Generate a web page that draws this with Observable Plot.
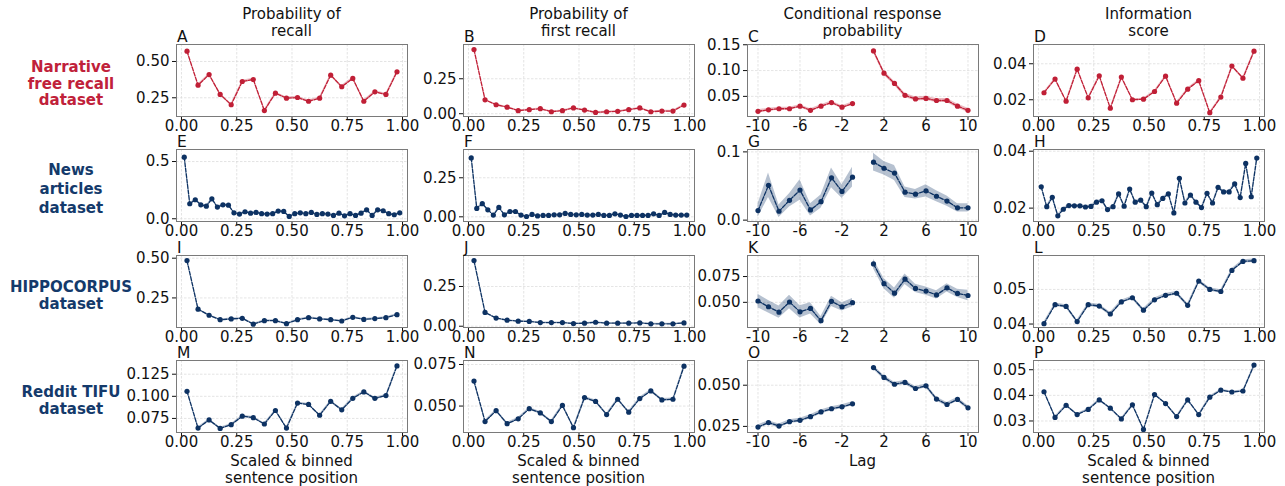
<!DOCTYPE html>
<html><head><meta charset="utf-8">
<script src="https://cdn.jsdelivr.net/npm/d3@7"></script>
<script src="https://cdn.jsdelivr.net/npm/@observablehq/plot@0.6"></script>
<style>
body{margin:0;background:#fff;}
#root{position:relative;width:1285px;height:486px;overflow:hidden;font-family:"DejaVu Sans",sans-serif;background:#fff;}
.t{position:absolute;text-align:center;font-size:15px;line-height:17px;color:#111;white-space:nowrap;transform:translateX(-50%);}
.rl{position:absolute;text-align:center;font-size:15px;line-height:16.5px;font-weight:bold;white-space:nowrap;transform:translateX(-50%);}
.lt{position:absolute;font-size:15.5px;line-height:11px;height:11px;color:#111;}
svg{position:absolute;}
</style></head><body><div id="root"></div>
<script>
// ---------- categories / ticks ----------
const pos20 = [0.025,0.075,0.125,0.175,0.225,0.275,0.325,0.375,0.425,0.475,0.525,0.575,0.625,0.675,0.725,0.775,0.825,0.875,0.925,0.975];
const pos40 = [0.0125,0.0375,0.0625,0.0875,0.1125,0.1375,0.1625,0.1875,0.2125,0.2375,0.2625,0.2875,0.3125,0.3375,0.3625,0.3875,0.4125,0.4375,0.4625,0.4875,0.5125,0.5375,0.5625,0.5875,0.6125,0.6375,0.6625,0.6875,0.7125,0.7375,0.7625,0.7875,0.8125,0.8375,0.8625,0.8875,0.9125,0.9375,0.9625,0.9875];
const lagsNeg = [-10,-9,-8,-7,-6,-5,-4,-3,-2,-1];
const lagsPos = [1,2,3,4,5,6,7,8,9,10];
const posTicks = [0,0.25,0.5,0.75,1];
const lagTicks = [-10,-6,-2,2,6,10];
const colTitles = ["Probability of\nrecall","Probability of\nfirst recall","Conditional response\nprobability","Information\nscore"];
const rowLabels = ["Narrative\nfree recall\ndataset","News\narticles\ndataset","HIPPOCORPUS\ndataset","Reddit TIFU\ndataset"];
const panelLetters = ["A","B","C","D","E","F","G","H","I","J","K","L","M","N","O","P"];
const xTitles = ["Scaled & binned\nsentence position","Scaled & binned\nsentence position","Lag","Scaled & binned\nsentence position"];

// ---------- Narrative free recall ----------
const recallNarr = [0.571,0.337,0.410,0.273,0.202,0.362,0.376,0.162,0.282,0.247,0.252,0.226,0.247,0.406,0.326,0.383,0.226,0.291,0.273,0.429];
const firstNarr = [0.459,0.099,0.064,0.047,0.022,0.029,0.036,0.014,0.022,0.041,0.026,0.009,0.014,0.017,0.029,0.041,0.014,0.019,0.019,0.062];
const crpNarrNeg = [0.021,0.024,0.026,0.026,0.031,0.023,0.031,0.038,0.029,0.036];
const crpNarrPos = [0.138,0.095,0.075,0.052,0.045,0.046,0.042,0.042,0.031,0.023];
const infoNarr = [0.0239,0.0315,0.0192,0.0370,0.0211,0.0333,0.0153,0.0326,0.0200,0.0203,0.0246,0.0331,0.0181,0.0259,0.0306,0.0128,0.0215,0.0387,0.0320,0.0470];

// ---------- News articles ----------
const recallNews = [0.538,0.131,0.166,0.122,0.110,0.174,0.102,0.122,0.119,0.052,0.041,0.061,0.049,0.055,0.044,0.041,0.044,0.067,0.064,0.020,0.044,0.052,0.044,0.055,0.038,0.044,0.041,0.029,0.049,0.026,0.044,0.029,0.049,0.078,0.029,0.078,0.070,0.044,0.035,0.052];
const firstNews = [0.377,0.054,0.084,0.045,0.011,0.060,0.013,0.034,0.034,0.011,0.002,0.015,0.006,0.009,0.009,0.013,0.013,0.022,0.015,0.013,0.015,0.011,0.011,0.015,0.009,0.009,0.019,0.011,0.002,0.009,0.009,0.009,0.009,0.019,0.009,0.028,0.015,0.011,0.011,0.011];
const crpNewsNeg = [0.014,0.051,0.013,0.029,0.044,0.015,0.027,0.062,0.042,0.063];
const crpNewsNegCI = [0.0097,0.018,0.009,0.0097,0.015,0.009,0.0097,0.0145,0.010,0.0145];
const crpNewsPos = [0.085,0.076,0.069,0.041,0.038,0.043,0.035,0.028,0.018,0.018];
const crpNewsPosCI = [0.013,0.010,0.011,0.0077,0.007,0.009,0.008,0.0075,0.006,0.006];
const infoNews = [0.0275,0.0205,0.0238,0.0173,0.0196,0.0209,0.0208,0.0208,0.0204,0.0206,0.0221,0.0226,0.0195,0.0205,0.0250,0.0207,0.0267,0.0221,0.0228,0.0205,0.0253,0.0212,0.0234,0.0250,0.0183,0.0305,0.0218,0.0246,0.0221,0.0202,0.0252,0.0218,0.0273,0.0257,0.0257,0.0285,0.0237,0.0357,0.0240,0.0376];

// ---------- HIPPOCORPUS ----------
const recallHippo = [0.485,0.179,0.141,0.113,0.118,0.122,0.085,0.107,0.107,0.088,0.113,0.126,0.118,0.113,0.105,0.128,0.115,0.120,0.126,0.145];
const firstHippo = [0.413,0.087,0.051,0.038,0.032,0.030,0.023,0.023,0.023,0.017,0.019,0.025,0.019,0.019,0.019,0.021,0.015,0.015,0.015,0.021];
const crpHippoNeg = [0.0513,0.0457,0.0405,0.0503,0.0408,0.0441,0.0322,0.0510,0.0457,0.0497];
const crpHippoNegCI = [0.0066,0.006,0.006,0.0066,0.006,0.0055,0.004,0.005,0.004,0.004];
const crpHippoPos = [0.0872,0.0681,0.0589,0.0724,0.0635,0.0609,0.0572,0.0641,0.0586,0.0566];
const crpHippoPosCI = [0.0046,0.005,0.005,0.005,0.004,0.004,0.004,0.004,0.004,0.005];
const infoHippo = [0.0401,0.0456,0.0451,0.0407,0.0456,0.0452,0.0429,0.0464,0.0476,0.0440,0.0470,0.0483,0.0489,0.0454,0.0524,0.0500,0.0494,0.0555,0.0581,0.0583];

// ---------- Reddit TIFU ----------
const recallReddit = [0.1057,0.0641,0.0733,0.0637,0.0679,0.0775,0.0759,0.0687,0.0840,0.0641,0.0924,0.0908,0.0786,0.0943,0.0847,0.0977,0.1050,0.0977,0.1008,0.1344];
const firstReddit = [0.0650,0.0407,0.0472,0.0394,0.0423,0.0484,0.0459,0.0407,0.0504,0.0370,0.0551,0.0528,0.0449,0.0541,0.0463,0.0545,0.0591,0.0537,0.0541,0.0740];
const crpRedditNeg = [0.0246,0.0273,0.0252,0.0279,0.0287,0.0309,0.0338,0.0357,0.0369,0.0387];
const crpRedditPos = [0.0607,0.0547,0.0506,0.0517,0.0480,0.0496,0.0416,0.0383,0.0414,0.0363];
const infoReddit = [0.0414,0.0314,0.0361,0.0325,0.0345,0.0382,0.0350,0.0308,0.0363,0.0267,0.0403,0.0368,0.0317,0.0382,0.0325,0.0393,0.0420,0.0413,0.0417,0.0518];

// ---------- y axis ticks per panel ----------
const yTicksA=[0.25,0.5], yTicksB=[0,0.25], yTicksC=[0.05,0.10,0.15], yTicksD=[0.02,0.04];
const yTicksE=[0,0.5], yTicksF=[0,0.25], yTicksG=[0,0.1], yTicksH=[0.02,0.04];
const yTicksI=[0.25,0.5], yTicksJ=[0,0.25], yTicksK=[0.05,0.075], yTicksL=[0.04,0.05];
const yTicksM=[0.075,0.1,0.125], yTicksN=[0.05,0.075], yTicksO=[0.025,0.05], yTicksP=[0.03,0.04,0.05];

const RED = "#c01f36", NAVY = "#0d3263";
const rowColors = [RED, NAVY, NAVY, NAVY];

// layout
const colX = [176, 463, 747, 1033], rowY = [44, 149, 255, 360];
const FW = 231, FH = 72, ML = 62, MR = 8, MT = 8, MB = 26;

function rows(xs, vals, ci, seg) {
  return xs.map((x,i) => { const e = Array.isArray(ci) ? ci[i] : ci; return {x, y: vals[i], lo: vals[i]-e, hi: vals[i]+e, seg}; });
}

const panels = [
  {r:0,c:0, data: rows(pos20, recallNarr, 0.008), yd:[0.121,0.617], yt:yTicksA, f:".2f"},
  {r:0,c:1, data: rows(pos20, firstNarr, 0.005), yd:[-0.02,0.495], yt:yTicksB, f:".2f"},
  {r:0,c:2, data: rows(lagsNeg, crpNarrNeg, 0.003, "n").concat(rows(lagsPos, crpNarrPos, 0.004, "p")), yd:[0.011,0.1505], yt:yTicksC, f:".2f", lag:true},
  {r:0,c:3, data: rows(pos20, infoNarr, 0.0006), yd:[0.0107,0.0507], yt:yTicksD, f:".2f"},
  {r:1,c:0, data: rows(pos40, recallNews, 0.007), yd:[-0.024,0.605], yt:yTicksE, f:".1f"},
  {r:1,c:1, data: rows(pos40, firstNews, 0.004), yd:[-0.03,0.431], yt:yTicksF, f:".2f"},
  {r:1,c:2, data: rows(lagsNeg, crpNewsNeg, crpNewsNegCI, "n").concat(rows(lagsPos, crpNewsPos, crpNewsPosCI, "p")), yd:[-0.002,0.1035], yt:yTicksG, f:".1f", lag:true},
  {r:1,c:3, data: rows(pos40, infoNews, 0.0005), yd:[0.0153,0.0406], yt:yTicksH, f:".2f"},
  {r:2,c:0, data: rows(pos20, recallHippo, 0.005), yd:[0.064,0.517], yt:yTicksI, f:".2f"},
  {r:2,c:1, data: rows(pos20, firstHippo, 0.003), yd:[-0.008,0.445], yt:yTicksJ, f:".2f"},
  {r:2,c:2, data: rows(lagsNeg, crpHippoNeg, crpHippoNegCI, "n").concat(rows(lagsPos, crpHippoPos, crpHippoPosCI, "p")), yd:[0.0256,0.0954], yt:yTicksK, f:".3f", lag:true},
  {r:2,c:3, data: rows(pos20, infoHippo, 0.0005), yd:[0.039,0.0598], yt:yTicksL, f:".2f"},
  {r:3,c:0, data: rows(pos20, recallReddit, 0.0012), yd:[0.0591,0.1405], yt:yTicksM, f:".3f"},
  {r:3,c:1, data: rows(pos20, firstReddit, 0.0008), yd:[0.0341,0.0774], yt:yTicksN, f:".3f"},
  {r:3,c:2, data: rows(lagsNeg, crpRedditNeg, 0.0012, "n").concat(rows(lagsPos, crpRedditPos, 0.0012, "p")), yd:[0.0213,0.065], yt:yTicksO, f:".3f", lag:true},
  {r:3,c:3, data: rows(pos20, infoReddit, 0.0004), yd:[0.0255,0.0536], yt:yTicksP, f:".2f"},
];

const root = document.getElementById("root");
const lagFmt = d => d < 0 ? "-" + Math.abs(d) : String(d);

panels.forEach((p, k) => {
  const color = rowColors[p.r];
  const xt = p.lag ? lagTicks : posTicks;
  const svg = Plot.plot({
    width: FW + ML + MR, height: FH + MT + MB,
    marginLeft: ML, marginRight: MR, marginTop: MT, marginBottom: MB,
    style: {fontSize: "15px", fontFamily: "DejaVu Sans, sans-serif", background: "transparent", overflow: "visible", maxWidth: "none", color: "#111"},
    x: {domain: p.lag ? [-11, 11] : [-0.0225, 1.0225], ticks: xt, tickFormat: p.lag ? lagFmt : d3.format(".2f"), tickSize: 4, tickPadding: 0, label: null},
    y: {domain: p.yd, ticks: p.yt, tickFormat: d3.format(p.f), tickSize: 4, tickPadding: 3, label: null},
    marks: [
      Plot.ruleX(xt, {stroke: "#d9d9d9", strokeWidth: 0.7, strokeDasharray: "2.5,1.5"}),
      Plot.ruleY(p.yt, {stroke: "#d9d9d9", strokeWidth: 0.7, strokeDasharray: "2.5,1.5"}),
      Plot.areaY(p.data, {x: "x", y1: "lo", y2: "hi", z: "seg", fill: color, fillOpacity: 0.3}),
      Plot.line(p.data, {x: "x", y: "y", z: "seg", stroke: color, strokeWidth: 1.3, strokeDasharray: "4,1.5"}),
      Plot.dot(p.data, {x: "x", y: "y", r: 2.6, fill: color, stroke: "none"}),
      Plot.frame({stroke: "#7a7a7a", strokeWidth: 1})
    ]
  });
  svg.style.left = (colX[p.c] - ML) + "px";
  svg.style.top = (rowY[p.r] - MT) + "px";
  root.appendChild(svg);

  const lt = document.createElement("div");
  lt.className = "lt";
  lt.textContent = panelLetters[k];
  lt.style.left = (colX[p.c] + 1) + "px";
  lt.style.top = (rowY[p.r] - 12) + "px";
  root.appendChild(lt);
});

colTitles.forEach((t, c) => {
  const d = document.createElement("div");
  d.className = "t";
  d.innerHTML = t.replace("\n", "<br>");
  d.style.left = (colX[c] + FW / 2) + "px";
  d.style.top = "6px";
  root.appendChild(d);
});

xTitles.forEach((t, c) => {
  const d = document.createElement("div");
  d.className = "t";
  d.style.lineHeight = "16.5px";
  d.innerHTML = t.replace("\n", "<br>");
  d.style.left = (colX[c] + FW / 2) + "px";
  d.style.top = "453px";
  root.appendChild(d);
});

const rowLabelTop = [59, 161, 279, 384];
rowLabels.forEach((t, r) => {
  const d = document.createElement("div");
  d.className = "rl";
  d.style.color = r === 0 ? "#c0213a" : "#143a6b";
  d.innerHTML = t.split("\n").join("<br>");
  d.style.left = "71px";
  d.style.top = rowLabelTop[r] + "px";
  if (r === 1) d.style.lineHeight = "19px";
  root.appendChild(d);
});
</script></body></html>
